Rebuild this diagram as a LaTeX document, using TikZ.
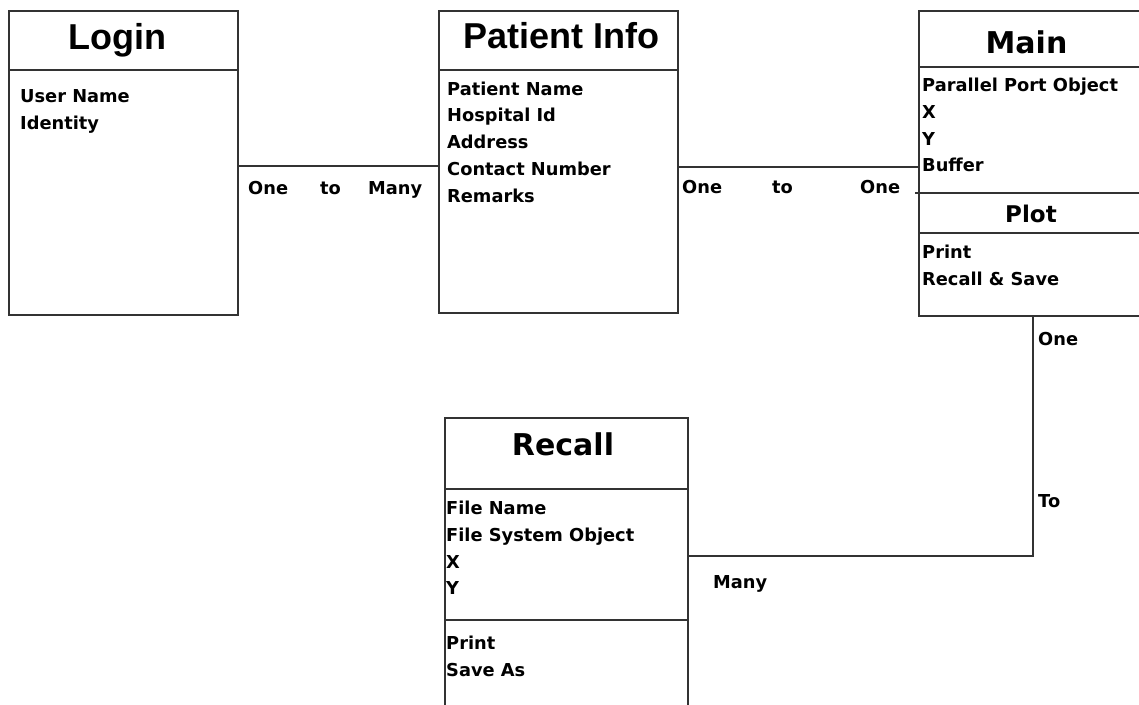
\documentclass[tikz,border=0pt]{standalone}
\usepackage{fontspec}
\newfontfamily\itemfont{DejaVu Sans}
\newfontfamily\headfont{Liberation Sans}
\definecolor{linegray}{HTML}{333333}
\begin{document}
\begin{tikzpicture}[x=1pt,y=-1pt,
  box/.style={draw=linegray, line width=2pt, fill=white, inner sep=0pt, anchor=north west},
  rule/.style={draw=linegray, line width=2pt},
  link/.style={draw=linegray, line width=2pt},
  item/.style={inner sep=0pt, anchor=base west, font=\itemfont\bfseries\fontsize{17.8}{20}\selectfont},
  bigtitle/.style={inner sep=0pt, anchor=base, font=\headfont\bfseries\fontsize{36}{40}\selectfont},
  title/.style={inner sep=0pt, anchor=base, font=\itemfont\bfseries\fontsize{30}{34}\selectfont},
  subtitle/.style={inner sep=0pt, anchor=base, font=\itemfont\bfseries\fontsize{23}{26}\selectfont}]

\useasboundingbox (0,0) rectangle (1139,704);
\fill[white] (0,0) rectangle (1139,704);
\clip (0,0) rectangle (1139,704);

% class boxes
\node[box, minimum width=229pt, minimum height=304pt] (login)  at (8,10)    {};
\node[box, minimum width=239pt, minimum height=302pt] (pinfo)  at (438,10)  {};
\node[box, minimum width=228pt, minimum height=305pt] (main)   at (918,10)  {};
\node[box, minimum width=243pt, minimum height=310pt] (recall) at (444,417) {};

% compartment rules
\draw[rule] (login.west |- 0,70) -- (login.east |- 0,70);
\draw[rule] (pinfo.west |- 0,70) -- (pinfo.east |- 0,70);
\draw[rule] (main.west |- 0,67) -- (main.east |- 0,67);
\draw[rule] (915,193) -- (main.east |- 0,193);
\draw[rule] (main.west |- 0,233) -- (main.east |- 0,233);
\draw[rule] (recall.west |- 0,489) -- (recall.east |- 0,489);
\draw[rule] (recall.west |- 0,620) -- (recall.east |- 0,620);

% titles
\node[bigtitle] (login-title) at (117.5,49) {Login};
\node[bigtitle] (pinfo-title) at (561.5,48) {Patient Info};
\node[title] (main-title) at (1026.5,53) {Main};
\node[subtitle] (plot-title) at (1031,222) {Plot};
\node[title] (recall-title) at (563,455) {Recall};

% attributes and operations
\node[item] (login-1) at (20,102.5) {User Name};
\node[item] (login-2) at (20,129) {Identity};

\node[item] (pinfo-1) at (447,95) {Patient Name};
\node[item] (pinfo-2) at (447,121.8) {Hospital Id};
\node[item] (pinfo-3) at (447,148.6) {Address};
\node[item] (pinfo-4) at (447,175.4) {Contact Number};
\node[item] (pinfo-5) at (447,202.2) {Remarks};

\node[item] (main-1) at (922,91.5) {Parallel Port Object};
\node[item] (main-2) at (922,118.3) {X};
\node[item] (main-3) at (922,145) {Y};
\node[item] (main-4) at (922,171.5) {Buffer};
\node[item] (plot-1) at (922,258.5) {Print};
\node[item] (plot-2) at (922,285.5) {Recall \& Save};

\node[item] (recall-1) at (446,514.5) {File Name};
\node[item] (recall-2) at (446,541.5) {File System Object};
\node[item] (recall-3) at (446,568) {X};
\node[item] (recall-4) at (446,594.5) {Y};
\node[item] (recall-5) at (446,649.5) {Print};
\node[item] (recall-6) at (446,676) {Save As};

% associations
\draw[link] (login.east |- 0,166) -- (pinfo.west |- 0,166);
\draw[link] (pinfo.east |- 0,167) -- (main.west |- 0,167);
\draw[link] (main.south) |- (recall.east |- 0,556);

% multiplicities
\node[item] (lp-a) at (248,194) {One};
\node[item] (lp-b) at (320,194) {to};
\node[item] (lp-c) at (368,194) {Many};
\node[item] (pm-a) at (682,193) {One};
\node[item] (pm-b) at (772,193) {to};
\node[item] (pm-c) at (860,193) {One};
\node[item] (mr-a) at (1038,345) {One};
\node[item] (mr-b) at (1038,507) {To};
\node[item] (mr-c) at (713,588) {Many};
\end{tikzpicture}
\end{document}
